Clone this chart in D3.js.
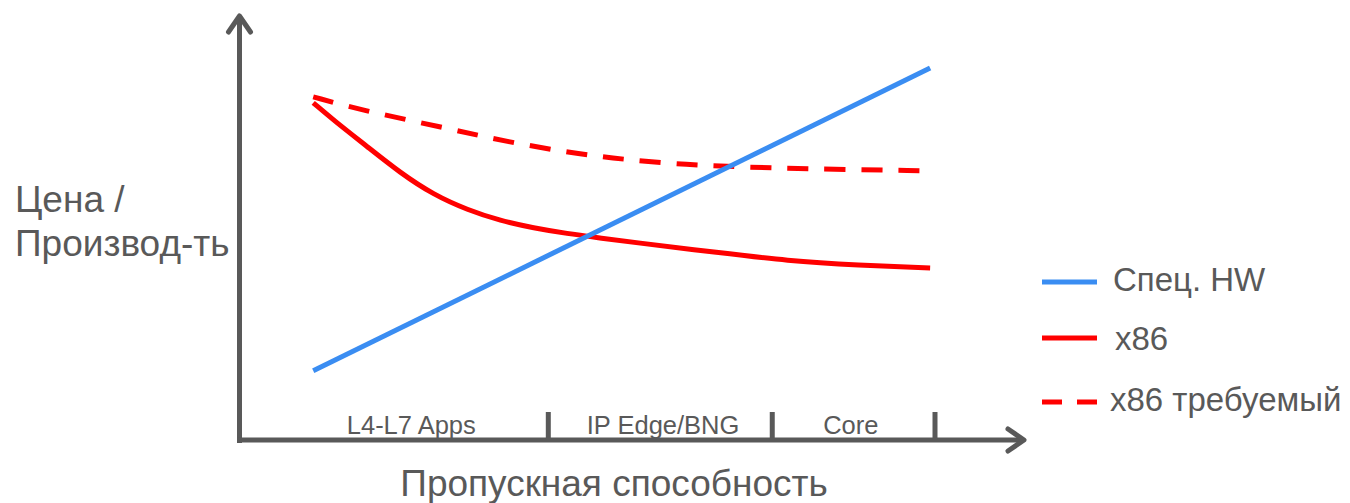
<!DOCTYPE html>
<html><head><meta charset="utf-8">
<script src="https://cdn.jsdelivr.net/npm/d3@7"></script>
<style>html,body{margin:0;padding:0;background:#fff;}svg{display:block;font-family:"Liberation Sans",Arial,sans-serif;}</style>
</head><body>
<svg id="c" width="1350" height="503"></svg>
<script>
// ---- data ----
const categories = ["L4-L7 Apps", "IP Edge/BNG", "Core"];
const categoryCenters = [24.7, 60.9, 87.9];
const categoryBounds = [44.4, 76.6, 100];
const seriesNames = ["Спец. HW", "x86", "x86 требуемый"];
const hwX = [10.6, 99.3];
const hwY = [17.3, 93.0];
const x86X = [10.6, 13.5, 18.4, 23.1, 27.9, 32.8, 37.5, 42.3, 47.1, 51.9, 56.2, 69.1, 78.7, 89.0, 99.3];
const x86Y = [84.3, 80.0, 73.3, 66.8, 61.3, 57.5, 54.8, 53.0, 51.6, 50.5, 49.5, 46.8, 44.8, 43.7, 43.0];
const reqX = [10.6, 17.4, 28.9, 38.5, 49.4, 56.2, 64.4, 71.6, 81.0, 99.0];
const reqY = [85.8, 82.5, 78.3, 74.5, 71.3, 70.0, 68.8, 68.3, 67.8, 67.3];
const yTitle = ["Цена /", "Производ-ть"];
const xTitle = "Пропускная способность";

// ---- drawing ----
const svg = d3.select("#c");
const axisColor = "#595959";
const blue = "#3a8df2", red = "#ff0000";
const x = d3.scaleLinear().domain([0, 100]).range([239.5, 935]);
const y = d3.scaleLinear().domain([0, 100]).range([440, 40]);

// axes
const ax = svg.append("g").attr("stroke", axisColor).attr("stroke-width", 5).attr("fill", "none");
ax.append("line").attr("x1", x(0)).attr("x2", x(0)).attr("y1", 443).attr("y2", 16);
ax.append("line").attr("x1", x(0) - 2.5).attr("x2", 1024).attr("y1", 440).attr("y2", 440);
ax.append("polyline").attr("points", `${x(0)-11},32 ${x(0)},16 ${x(0)+11},32`)
  .attr("stroke-linecap", "round").attr("stroke-linejoin", "round");
ax.append("polyline").attr("points", `1008,429 1024,440 1008,451`)
  .attr("stroke-linecap", "round").attr("stroke-linejoin", "round");
ax.selectAll("line.tick").data(categoryBounds).join("line").attr("class", "tick")
  .attr("x1", d => x(d)).attr("x2", d => x(d)).attr("y1", 412).attr("y2", 440);

// category labels
svg.selectAll("text.cat").data(categories).join("text").attr("class", "cat")
  .attr("x", (d, i) => x(categoryCenters[i])).attr("y", 434)
  .attr("text-anchor", "middle").attr("font-size", 25.5).attr("fill", axisColor)
  .text(d => d);

// titles
svg.append("text").attr("x", 15).attr("y", 212).attr("font-size", 37).attr("fill", axisColor).text(yTitle[0]);
svg.append("text").attr("x", 15).attr("y", 256).attr("font-size", 37).attr("fill", axisColor).text(yTitle[1]);
svg.append("text").attr("x", 614).attr("y", 496).attr("text-anchor", "middle").attr("font-size", 37).attr("fill", axisColor).text(xTitle);

// series
const line = d3.line().x(d => x(d[0])).y(d => y(d[1]));
const smooth = d3.line().x(d => x(d[0])).y(d => y(d[1])).curve(d3.curveBasis);
svg.append("path").datum(reqX.map((v, i) => [v, reqY[i]])).attr("d", smooth)
  .attr("fill", "none").attr("stroke", red).attr("stroke-width", 5).attr("stroke-dasharray", "21,16");
svg.append("path").datum(x86X.map((v, i) => [v, x86Y[i]])).attr("d", smooth)
  .attr("fill", "none").attr("stroke", red).attr("stroke-width", 5);
svg.append("path").datum(hwX.map((v, i) => [v, hwY[i]])).attr("d", line)
  .attr("fill", "none").attr("stroke", blue).attr("stroke-width", 5);

// legend
const legY = [282, 338, 402];
const legTextY = [291, 350, 411];
const legTextX = [1113, 1115, 1110];
const legStyles = [{c: blue, d: null}, {c: red, d: null}, {c: red, d: "20,15"}];
const leg = svg.append("g");
seriesNames.forEach((n, i) => {
  leg.append("line").attr("x1", 1042).attr("x2", 1097).attr("y1", legY[i]).attr("y2", legY[i])
    .attr("stroke", legStyles[i].c).attr("stroke-width", 5).attr("stroke-dasharray", legStyles[i].d);
  leg.append("text").attr("x", legTextX[i]).attr("y", legTextY[i]).attr("font-size", 33)
    .attr("fill", axisColor).text(n);
});
</script>
</body></html>
